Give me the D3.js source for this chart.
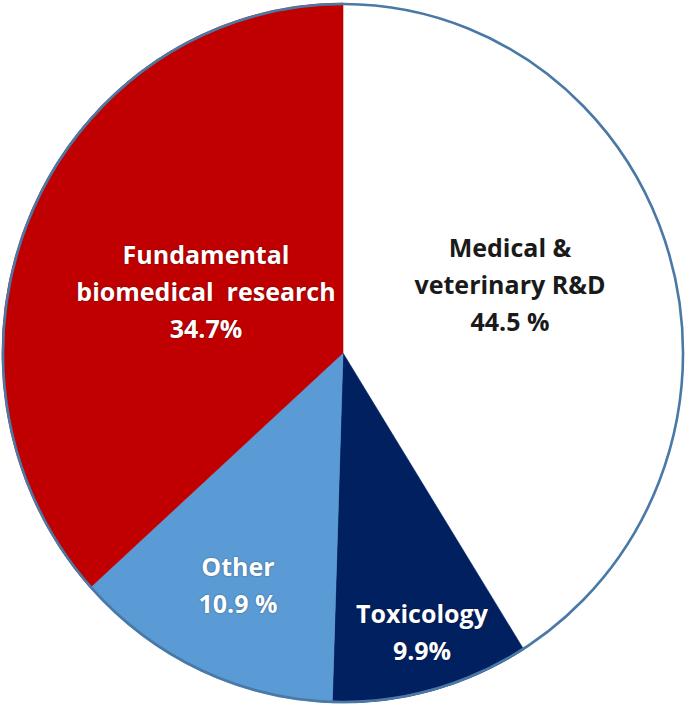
<!DOCTYPE html>
<html>
<head>
<meta charset="utf-8">
<script src="https://cdn.jsdelivr.net/npm/d3@7"></script>
<style>
  html, body { margin: 0; padding: 0; background: #fff; }
  svg { display: block; }
  .lbl { font-family: "Open Sans", Lato, sans-serif; font-weight: bold; font-size: 25px; text-anchor: middle; }
</style>
</head>
<body>
<div id="chart"></div>
<script>
// slices, clockwise from 12 o'clock
var categories = ["Medical & veterinary R&D", "Toxicology", "Other", "Fundamental biomedical research"];
// printed percentages
var printed = ["44.5 %", "9.9%", "10.9 %", "34.7%"];
// slice sizes as they are actually drawn in the picture (% of the circle)
var drawnShare = [41.1, 9.4, 12.8, 36.7];
// label lines
var labelLines = [
  ["Medical &", "veterinary R&D"],
  ["Toxicology"],
  ["Other"],
  ["Fundamental", "biomedical  research"]
];

var width = 685, height = 705;
var cx = 343, cy = 353, rx = 341, ry = 350;

var colors = ["#ffffff", "#002060", "#5b9bd5", "#c00000"];
var textColors = ["#1a1a1a", "#ffffff", "#ffffff", "#ffffff"];
// label block centres, relative to the pie centre
var labelAt = [[167, -68], [79, 279], [-105, 232], [-137, -61]];

var svg = d3.select("#chart").append("svg")
    .attr("width", width)
    .attr("height", height);

var pie = d3.pie().sort(null).value(function(d) { return d; });
var arc = d3.arc().innerRadius(0).outerRadius(ry);

var g = svg.append("g")
    .attr("transform", "translate(" + cx + "," + cy + ") scale(" + (rx / ry) + ",1)");

g.selectAll(".slice")
    .data(pie(drawnShare))
  .enter().append("path")
    .attr("class", "slice")
    .attr("d", arc)
    .attr("fill", function(d, i) { return colors[i]; })
    .attr("stroke", function(d, i) { return colors[i]; })
    .attr("stroke-width", 0.6);

// outline
g.append("ellipse")
    .attr("rx", ry - 1)
    .attr("ry", ry - 1)
    .attr("fill", "none")
    .attr("stroke", "#4a79a6")
    .attr("stroke-width", 2.6)
    .attr("vector-effect", "non-scaling-stroke");

var lineH = 37;
categories.forEach(function(c, i) {
  var lines = labelLines[i].concat([printed[i]]);
  var x0 = cx + labelAt[i][0];
  var y0 = cy + labelAt[i][1] - (lines.length - 1) * lineH / 2 + 9;
  var t = svg.append("text")
      .attr("class", "lbl")
      .attr("fill", textColors[i])
      .style("text-shadow", i === 0 ? "none" : "0 0 2px rgba(0,0,0,0.45)");
  lines.forEach(function(s, j) {
    t.append("tspan")
        .attr("x", x0)
        .attr("y", y0 + j * lineH)
        .attr("xml:space", "preserve")
        .text(s);
  });
});
</script>
</body>
</html>
